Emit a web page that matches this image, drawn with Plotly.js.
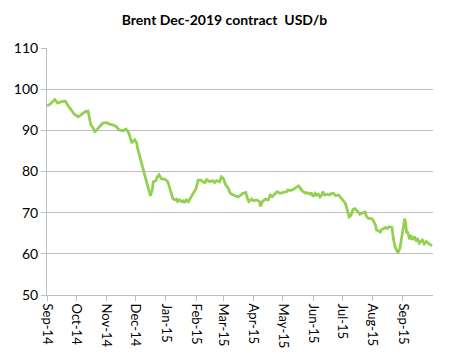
<!DOCTYPE html>
<html>
<head>
<meta charset="utf-8">
<script src="https://cdn.plot.ly/plotly-3.0.1.min.js"></script>
<style>html,body{margin:0;padding:0;background:#fff;}#chart{width:449px;height:364px;}</style>
</head>
<body>
<div id="chart"></div>
<script>
var dates = [
"2014-09-01","2014-09-04","2014-09-06","2014-09-09","2014-09-12","2014-09-16","2014-09-20","2014-09-22","2014-09-26","2014-09-29",
"2014-10-03","2014-10-06","2014-10-10","2014-10-13","2014-10-15","2014-10-16","2014-10-18","2014-10-20","2014-10-22","2014-10-25",
"2014-10-28","2014-11-01","2014-11-04","2014-11-08","2014-11-11","2014-11-14","2014-11-18","2014-11-21","2014-11-24","2014-11-27",
"2014-11-28","2014-11-30","2014-12-02","2014-12-03","2014-12-05","2014-12-07","2014-12-08","2014-12-10","2014-12-12","2014-12-14",
"2014-12-15","2014-12-16","2014-12-18","2014-12-19","2014-12-22","2014-12-23","2014-12-25","2014-12-27","2014-12-31","2015-01-03",
"2015-01-05","2015-01-07","2015-01-08","2015-01-10","2015-01-12","2015-01-13","2015-01-15","2015-01-17","2015-01-19","2015-01-20",
"2015-01-22","2015-01-24","2015-01-25","2015-01-27","2015-01-29","2015-01-31","2015-02-01","2015-02-03","2015-02-05","2015-02-06",
"2015-02-08","2015-02-10","2015-02-12","2015-02-13","2015-02-15","2015-02-18","2015-02-20","2015-02-22","2015-02-25","2015-02-27",
"2015-03-01","2015-03-03","2015-03-06","2015-03-08","2015-03-11","2015-03-14","2015-03-16","2015-03-19","2015-03-21","2015-03-24",
"2015-03-25","2015-03-27","2015-03-30","2015-04-01","2015-04-04","2015-04-07","2015-04-08","2015-04-10","2015-04-13","2015-04-16",
"2015-04-18","2015-04-20","2015-04-24","2015-04-25","2015-04-28","2015-05-01","2015-05-05","2015-05-06","2015-05-09","2015-05-12",
"2015-05-15","2015-05-17","2015-05-18","2015-05-20","2015-05-22","2015-05-24","2015-05-25","2015-05-27","2015-05-29","2015-05-30",
"2015-06-01","2015-06-03","2015-06-05","2015-06-06","2015-06-08","2015-06-10","2015-06-11","2015-06-13","2015-06-16","2015-06-18",
"2015-06-20","2015-06-22","2015-06-24","2015-06-27","2015-06-29","2015-07-01","2015-07-04","2015-07-05","2015-07-07","2015-07-08",
"2015-07-10","2015-07-12","2015-07-14","2015-07-16","2015-07-17","2015-07-19","2015-07-22","2015-07-24","2015-07-26","2015-07-28",
"2015-07-30","2015-08-01","2015-08-04","2015-08-05","2015-08-07","2015-08-09","2015-08-10","2015-08-12","2015-08-14","2015-08-16",
"2015-08-18","2015-08-21","2015-08-22","2015-08-24","2015-08-26","2015-08-27","2015-08-29","2015-08-31","2015-09-02","2015-09-03",
"2015-09-04","2015-09-05","2015-09-06","2015-09-08","2015-09-09","2015-09-11","2015-09-13","2015-09-15","2015-09-16","2015-09-18",
"2015-09-21","2015-09-23","2015-09-25","2015-09-27","2015-09-30","2015-10-01"
];
var prices = [
96.0,96.3,96.8,97.5,96.6,97.0,97.1,96.2,94.9,93.9,
93.3,93.9,94.5,94.7,92.9,91.3,90.7,89.7,90.1,90.9,
91.7,91.9,91.5,91.3,90.9,90.1,89.9,90.3,89.3,86.9,
87.3,87.7,86.9,85.6,83.8,82.2,80.8,79.6,77.9,75.9,
74.7,74.1,75.5,77.5,77.8,78.7,79.2,78.3,78.1,77.5,
75.9,73.9,73.5,73.1,73.3,72.7,73.1,72.7,72.9,72.4,
73.1,72.7,73.1,73.8,74.7,75.5,75.9,77.9,77.8,77.9,
77.5,77.3,78.2,77.8,77.5,77.8,77.3,77.8,77.5,78.7,
78.3,76.9,75.9,74.7,74.3,74.1,73.8,74.3,74.7,74.9,
73.9,72.7,73.3,72.9,73.1,72.7,71.5,72.7,73.3,73.1,
74.3,73.9,74.7,75.1,74.7,74.9,75.1,75.5,75.4,75.7,
76.2,76.5,76.3,75.5,75.1,74.7,74.9,74.7,74.5,74.9,
73.9,74.7,74.1,74.7,73.8,74.3,75.1,74.3,74.5,74.3,
74.7,74.7,74.1,74.3,73.8,73.1,72.3,71.5,69.8,69.0,
69.4,70.8,71.0,70.6,70.2,69.6,69.9,70.2,69.0,68.6,
68.6,68.4,67.0,65.8,65.6,65.3,65.8,66.2,66.4,66.2,
66.6,66.4,64.2,61.7,60.5,60.3,61.3,63.8,67.0,68.6,
67.4,65.0,65.4,63.5,64.6,63.4,64.2,63.0,63.8,62.6,
63.4,62.4,63.0,62.6,62.2,61.9
];
var tickDates = ["2014-09-01","2014-10-01","2014-11-01","2014-12-01","2015-01-01","2015-02-01","2015-03-01","2015-04-01","2015-05-01","2015-06-01","2015-07-01","2015-08-01","2015-09-01"];
var tickLabels = ["Sep-14","Oct-14","Nov-14","Dec-14","Jan-15","Feb-15","Mar-15","Apr-15","May-15","Jun-15","Jul-15","Aug-15","Sep-15"];

var font = "Lato, 'Open Sans', sans-serif";
var trace = {
  x: dates, y: prices, type: "scatter", mode: "lines",
  line: {color: "#92D050", width: 2.75, shape: "linear"},
  hoverinfo: "skip"
};
var layout = {
  width: 449, height: 364,
  margin: {l: 47, r: 16, t: 48, b: 69},
  paper_bgcolor: "#ffffff", plot_bgcolor: "#ffffff",
  showlegend: false,
  title: {text: "<b>Brent Dec-2019 contract  USD/b</b>", x: 0.5, xanchor: "center", y: 0.945, yanchor: "middle",
          font: {family: font, size: 14, color: "#000"}},
  xaxis: {
    type: "date", range: ["2014-09-01", "2015-10-02"],
    tickmode: "array", tickvals: tickDates, ticktext: tickLabels,
    tickangle: 90, tickfont: {family: font, size: 13, color: "#000"},
    showgrid: false, showline: true, linecolor: "#BFBFBF", linewidth: 1,
    ticks: "outside", ticklen: 5, tickcolor: "#BFBFBF", zeroline: false
  },
  yaxis: {
    range: [50, 110], dtick: 10, tick0: 50,
    tickfont: {family: font, size: 14, color: "#000"},
    showgrid: true, gridcolor: "#BFBFBF", gridwidth: 1,
    showline: true, linecolor: "#BFBFBF", linewidth: 1,
    ticks: "outside", ticklen: 5, tickcolor: "#BFBFBF", zeroline: false
  }
};
Plotly.newPlot("chart", [trace], layout, {displayModeBar: false, staticPlot: true});
</script>
</body>
</html>
